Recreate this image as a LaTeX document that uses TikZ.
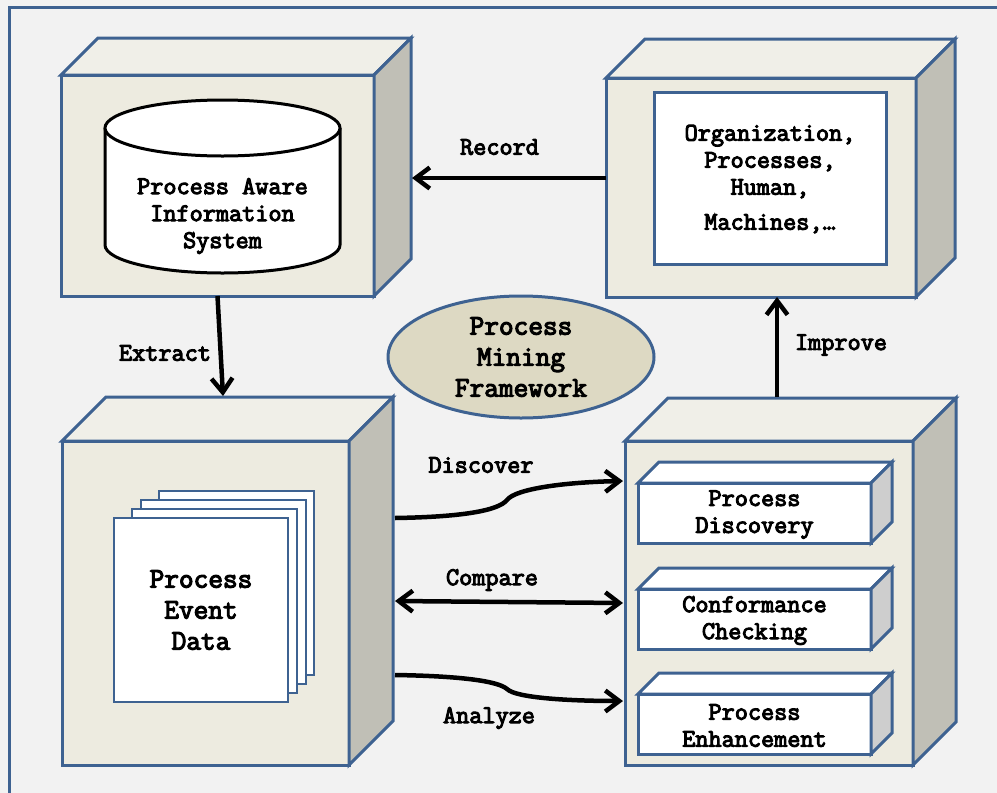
\documentclass[tikz,border=0pt]{standalone}
\usepackage{fontspec}
\newfontfamily\monobold{Latin Modern Mono}[FakeBold=4]
\usetikzlibrary{calc,arrows.meta,shapes.geometric}

\definecolor{edgeblue}{RGB}{62,98,145}
\definecolor{frontc}{RGB}{237,235,224}
\definecolor{topc}{RGB}{240,239,232}
\definecolor{sidec}{RGB}{192,191,182}
\definecolor{smallside}{RGB}{206,206,206}
\definecolor{ellc}{RGB}{221,217,195}
\definecolor{bgc}{RGB}{242,242,242}

% top and side faces of a box drawn behind a front-face node
\newcommand{\cubefaces}[4]{%
  \draw[edge, fill=#3] (#1.north west) -- ($(#1.north west)+(#2,-#2)$)
    -- ($(#1.north east)+(#2,-#2)$) -- (#1.north east) -- cycle;
  \draw[edge, fill=#4] (#1.north east) -- ($(#1.north east)+(#2,-#2)$)
    -- ($(#1.south east)+(#2,-#2)$) -- (#1.south east) -- cycle;}

\begin{document}
\begin{tikzpicture}[x=1pt, y=-1pt,
  every node/.style={font=\monobold\fontsize{25.5}{27}\selectfont, align=center},
  big/.style={font=\monobold\fontsize{28.5}{31}\selectfont},
  edge/.style={draw=edgeblue, line width=3pt, line join=miter},
  cubefront/.style={edge, fill=frontc, inner sep=0pt, outer sep=0pt},
  smallfront/.style={edge, fill=white, inner sep=0pt, outer sep=0pt,
    minimum width=233pt, minimum height=60pt},
  page/.style={draw=edgeblue, line width=2.5pt, fill=white, inner sep=0pt, outer sep=0pt},
  arr/.style={line width=4.5pt, -{Straight Barb[length=14pt, width=21pt]}},
  darr/.style={line width=4.5pt, {Straight Barb[length=14pt, width=21pt]}-{Straight Barb[length=14pt, width=21pt]}},
  lbl/.style={inner sep=0pt}
  ]
\useasboundingbox (0,0) rectangle (997,793);
\fill[bgc] (0,0) rectangle (997,793);
\draw[edgeblue, line width=3pt] (9,793) -- (9,7.5) -- (997,7.5);

% information system box
\node[cubefront, minimum width=313pt, minimum height=221pt] (pais) at (217.5,185.5) {};
\cubefaces{pais}{37}{topc}{sidec}
\fill[white] (105,128) rectangle (340,245);
\draw[line width=3pt, fill=white] (105,128) -- (105,245)
  arc[start angle=180, end angle=0, x radius=117.5, y radius=28] -- (340,128);
\draw[line width=3pt, fill=white] (222.5,128) ellipse [x radius=117.5, y radius=28];
\node (paistext) at (222.5,216) {Process Aware\\Information\\System};

% real world box
\node[cubefront, minimum width=310pt, minimum height=219pt] (world) at (761,187.5) {};
\cubefaces{world}{39}{topc}{sidec}
\node[edge, fill=white, minimum width=232pt, minimum height=172pt, inner sep=0pt]
  (org) at (770,178) {};
\node (orgtext) at (770,179) {Organization,\\Processes,\\Human,\\[8pt]Machines,\ldots};

% event data box
\node[cubefront, minimum width=287pt, minimum height=324pt] (ed) at (205.5,603) {};
\cubefaces{ed}{44}{topc}{sidec}
\draw[page] (159,491) rectangle (314,675);
\draw[page] (141,500) rectangle (306,684);
\draw[page] (132,509) rectangle (297,693);
\node[page, big, minimum width=174pt, minimum height=184pt] (log) at (201,610)
  {Process\\Event\\Data};

% process mining techniques box
\node[cubefront, minimum width=288pt, minimum height=324pt] (pm) at (769,603) {};
\cubefaces{pm}{43}{topc}{sidec}
\node[smallfront] (disc) at (754.5,513) {};
\cubefaces{disc}{21}{white}{smallside}
\node at ([yshift=-1.5pt]disc) {Process\\Discovery};
\node[smallfront] (conf) at (754.5,619) {};
\cubefaces{conf}{21}{white}{smallside}
\node at ([yshift=-1.5pt]conf) {Conformance\\Checking};
\node[smallfront] (enh) at (754.5,724) {};
\cubefaces{enh}{21}{white}{smallside}
\node at ([yshift=-1.5pt]enh) {Process\\Enhancement};

% framework label
\node[ellipse, edge, fill=ellc, big, minimum width=266pt, minimum height=122pt, inner sep=0pt]
  (pmf) at (521,357) {Process\\Mining\\Framework};

% connectors
\coordinate (paisside) at ($(pais.east)+(38,-7.5)$);
\draw[arr] (world.west |- paisside) -- (paisside);
\node[lbl] at (499.5,147) {Record};

\coordinate (edtop) at ($(ed.north)+(17.5,-45)$);
\draw[arr] (pais.south) -- (edtop);
\node[lbl] at (165,353) {Extract};

\coordinate (pmtop) at ($(pm.north)+(8,-44)$);
\draw[arr] (pmtop) -- (pmtop |- world.south);
\node[lbl] at (841,345) {Improve};

\coordinate (edside1) at ($(ed.east)+(46,-85)$);
\coordinate (pmin1) at ($(pm.west)+(-2,-122)$);
\draw[arr] (edside1) .. controls (460,517) and (498,511) .. (507,500)
  .. controls (516,488) and (570,482) .. (pmin1);
\node[lbl] at (481,465) {Discover};

\coordinate (edside2) at ($(ed.east)+(46,-2)$);
\coordinate (pmin2) at ($(pm.west)+(-2,0)$);
\draw[darr] (edside2) -- (pmin2);
\node[lbl] at (492,580) {Compare};

\coordinate (edside3) at ($(ed.east)+(46,72)$);
\coordinate (pmin3) at ($(pm.west)+(-2,98)$);
\draw[arr] (edside3) .. controls (460,676) and (498,681) .. (507,689)
  .. controls (516,698) and (570,701) .. (pmin3);
\node[lbl] at (489,718) {Analyze};
\end{tikzpicture}
\end{document}
